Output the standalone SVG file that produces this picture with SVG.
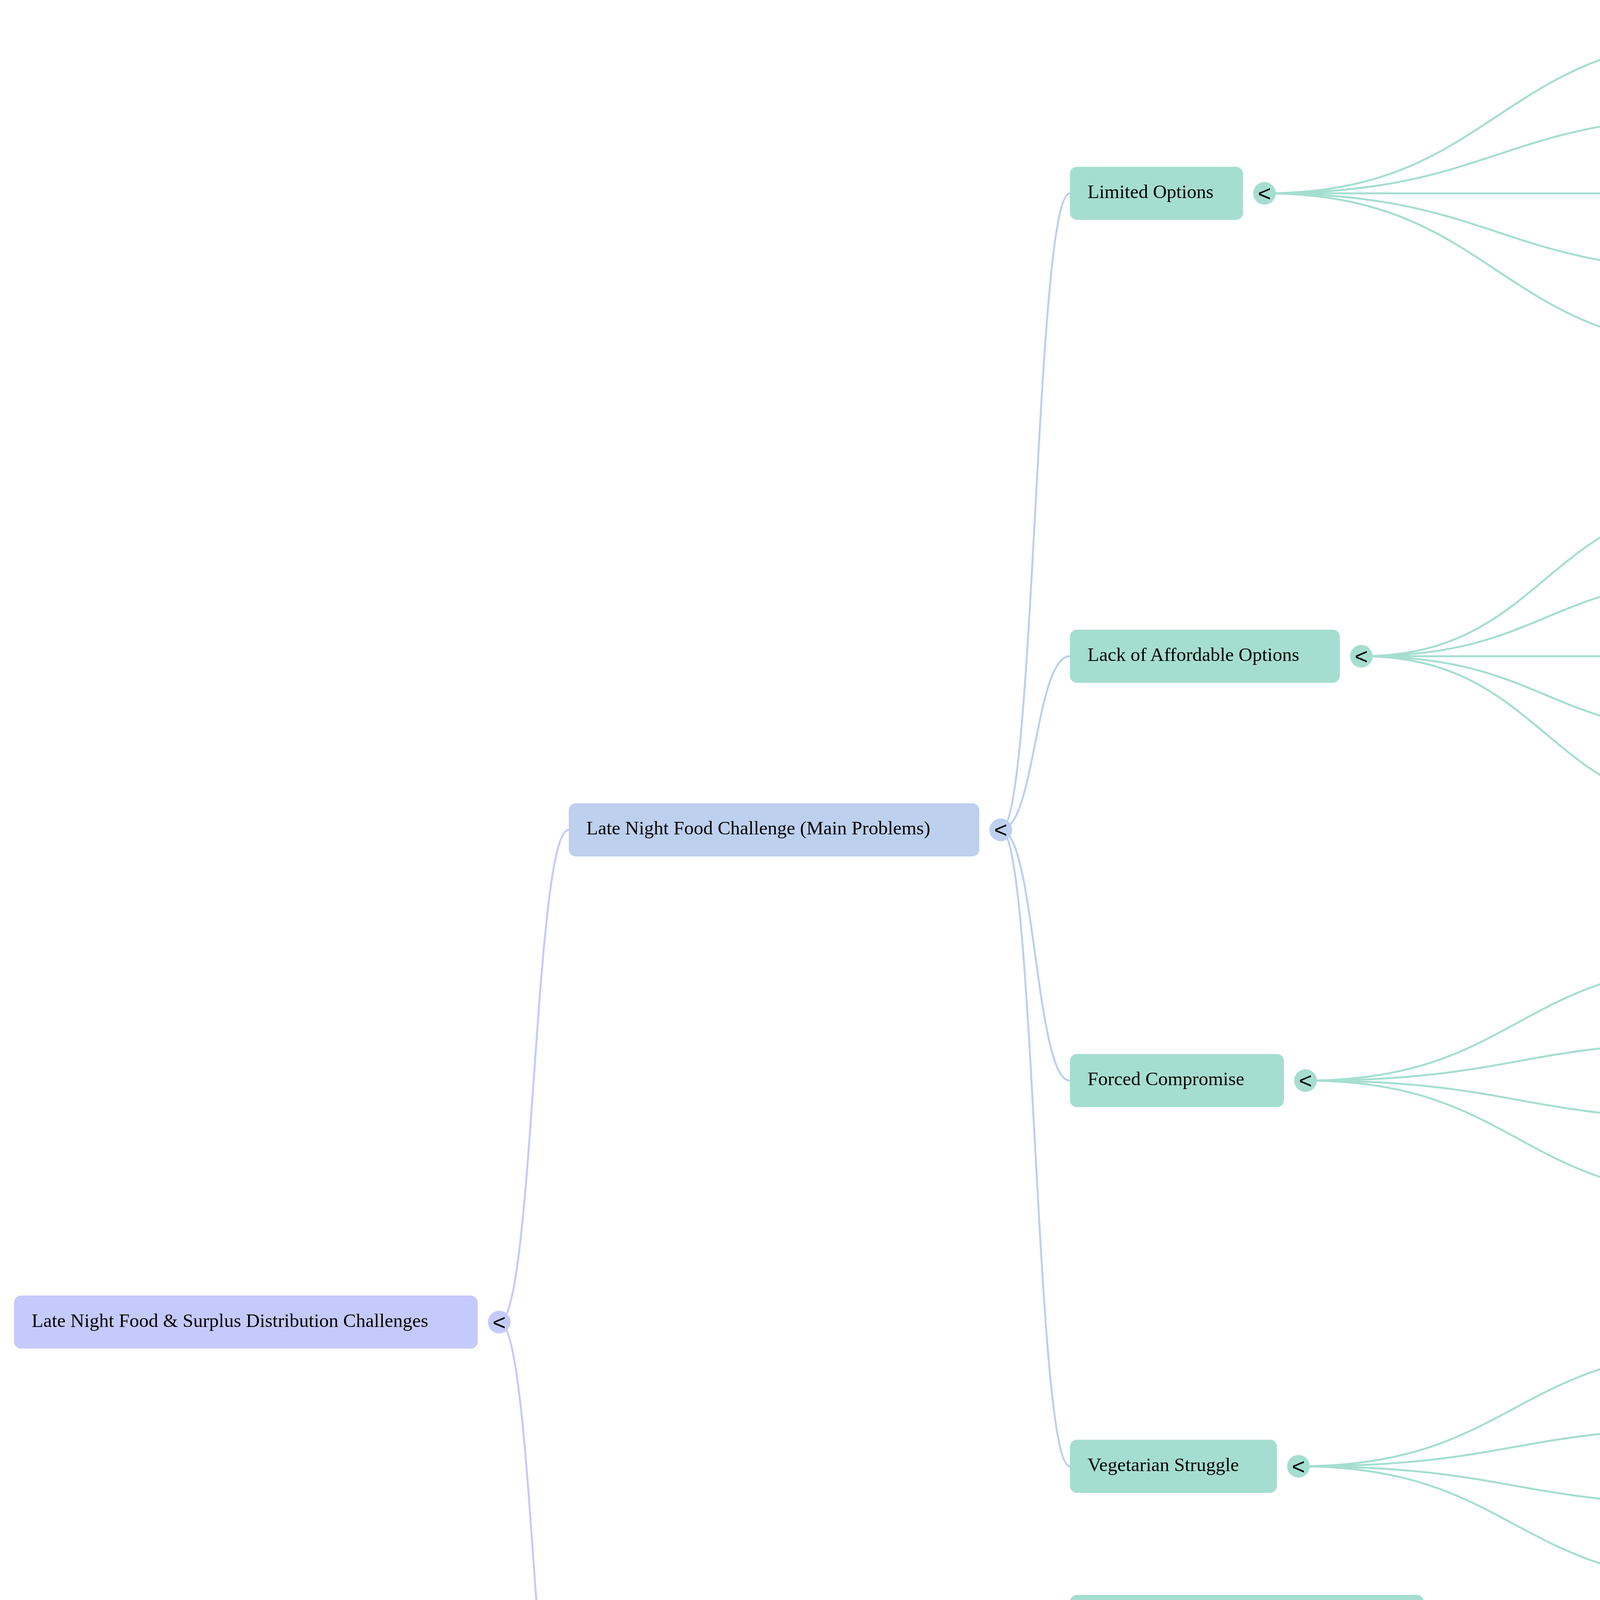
<svg xmlns="http://www.w3.org/2000/svg" width="5880" height="5214" viewBox="0 0 5880 5214">
<style>
.t{font-family:"Liberation Serif","Times New Roman",serif;font-size:49px;fill:#000}
.c{font-family:"Liberation Sans",Arial,sans-serif;font-size:58px;fill:#000;text-anchor:middle}
.n0{fill:#c5cafc}.n1{fill:#bdd0ee}.n2{fill:#a5ded0}.n3{fill:#9eebbe}
.l0,.l1,.l2{fill:none;stroke-width:5}
.l0{stroke:#c5cafc}.l1{stroke:#bdd0ee}.l2{stroke:#a5ded0}
</style>
<rect width="5880" height="5214" fill="#ffffff"/>
<g id="connectors">
<path class="l0" d="M1278,3384.6 C1367,3384.6 1367,2124.4 1456,2124.4"/>
<path class="l0" d="M1278,3384.6 C1367,3384.6 1367,4644.75 1456,4644.75"/>
<path class="l1" d="M2562,2124.4 C2650,2124.4 2650,495 2739,495"/>
<path class="l1" d="M2562,2124.4 C2650,2124.4 2650,1680 2739,1680"/>
<path class="l1" d="M2562,2124.4 C2650,2124.4 2650,2766.25 2739,2766.25"/>
<path class="l1" d="M2562,2124.4 C2650,2124.4 2650,3753.75 2739,3753.75"/>
<path class="l1" d="M2356,4644.75 C2547,4644.75 2547,4151 2739,4151"/>
<path class="l1" d="M2356,4644.75 C2547,4644.75 2547,4348.5 2739,4348.5"/>
<path class="l1" d="M2356,4644.75 C2547,4644.75 2547,4546 2739,4546"/>
<path class="l1" d="M2356,4644.75 C2547,4644.75 2547,4743.5 2739,4743.5"/>
<path class="l1" d="M2356,4644.75 C2547,4644.75 2547,4941 2739,4941"/>
<path class="l1" d="M2356,4644.75 C2547,4644.75 2547,5138.5 2739,5138.5"/>
<path class="l2" d="M3237,495 C3832,495 3832,100 4428,100"/>
<path class="l2" d="M3237,495 C3832,495 3832,297.5 4428,297.5"/>
<path class="l2" d="M3237,495 C3832,495 3832,495 4428,495"/>
<path class="l2" d="M3237,495 C3832,495 3832,692.5 4428,692.5"/>
<path class="l2" d="M3237,495 C3832,495 3832,890 4428,890"/>
<path class="l2" d="M3485,1680 C3956,1680 3956,1285 4428,1285"/>
<path class="l2" d="M3485,1680 C3956,1680 3956,1482.5 4428,1482.5"/>
<path class="l2" d="M3485,1680 C3956,1680 3956,1680 4428,1680"/>
<path class="l2" d="M3485,1680 C3956,1680 3956,1877.5 4428,1877.5"/>
<path class="l2" d="M3485,1680 C3956,1680 3956,2075 4428,2075"/>
<path class="l2" d="M3342,2766.25 C3885,2766.25 3885,2470 4428,2470"/>
<path class="l2" d="M3342,2766.25 C3885,2766.25 3885,2667.5 4428,2667.5"/>
<path class="l2" d="M3342,2766.25 C3885,2766.25 3885,2865 4428,2865"/>
<path class="l2" d="M3342,2766.25 C3885,2766.25 3885,3062.5 4428,3062.5"/>
<path class="l2" d="M3324,3753.75 C3876,3753.75 3876,3457.5 4428,3457.5"/>
<path class="l2" d="M3324,3753.75 C3876,3753.75 3876,3655 4428,3655"/>
<path class="l2" d="M3324,3753.75 C3876,3753.75 3876,3852.5 4428,3852.5"/>
<path class="l2" d="M3324,3753.75 C3876,3753.75 3876,4050 4428,4050"/>
</g>
<g id="root"><rect class="n0" x="36" y="3316.6" width="1187" height="136" rx="18"/><text class="t" x="81" y="3396.6">Late Night Food &amp; Surplus Distribution Challenges</text><circle class="n0" cx="1278" cy="3384.6" r="29"/><text class="c" x="1278" y="3404.6">&lt;</text></g>
<g id="late-night"><rect class="n1" x="1456" y="2056.4" width="1051" height="136" rx="18"/><text class="t" x="1501" y="2136.4">Late Night Food Challenge (Main Problems)</text><circle class="n1" cx="2562" cy="2124.4" r="29"/><text class="c" x="2562" y="2144.4">&lt;</text></g>
<g id="surplus"><rect class="n1" x="1456" y="4576.75" width="845" height="136" rx="18"/><text class="t" x="1501" y="4656.75">Surplus Food Distribution Problem</text><circle class="n1" cx="2356" cy="4644.75" r="29"/><text class="c" x="2356" y="4664.75">&lt;</text></g>
<g id="limited"><rect class="n2" x="2739" y="427" width="443" height="136" rx="18"/><text class="t" x="2784" y="507">Limited Options</text><circle class="n2" cx="3237" cy="495" r="29"/><text class="c" x="3237" y="515">&lt;</text></g>
<g id="affordable"><rect class="n2" x="2739" y="1612" width="691" height="136" rx="18"/><text class="t" x="2784" y="1692">Lack of Affordable Options</text><circle class="n2" cx="3485" cy="1680" r="29"/><text class="c" x="3485" y="1700">&lt;</text></g>
<g id="forced"><rect class="n2" x="2739" y="2698.25" width="548" height="136" rx="18"/><text class="t" x="2784" y="2778.25">Forced Compromise</text><circle class="n2" cx="3342" cy="2766.25" r="29"/><text class="c" x="3342" y="2786.25">&lt;</text></g>
<g id="vegetarian"><rect class="n2" x="2739" y="3685.75" width="530" height="136" rx="18"/><text class="t" x="2784" y="3765.75">Vegetarian Struggle</text><circle class="n2" cx="3324" cy="3753.75" r="29"/><text class="c" x="3324" y="3773.75">&lt;</text></g>
<g id="s1"><rect class="n2" x="2739" y="4083" width="906" height="136" rx="18"/><text class="t" x="2784" y="4163">Lack of Awareness and Coordination</text></g>
<g id="s2"><rect class="n2" x="2739" y="4280.5" width="1317" height="136" rx="18"/><text class="t" x="2784" y="4360.5">Stakeholders: Volunteers, event organizers, restaurants</text></g>
<g id="s3"><rect class="n2" x="2739" y="4478" width="1130" height="136" rx="18"/><text class="t" x="2784" y="4558">Issue: No clear coordinated distribution system</text></g>
<g id="s4"><rect class="n2" x="2739" y="4675.5" width="1540" height="136" rx="18"/><text class="t" x="2784" y="4755.5">When: After events, late at night, when restaurants have leftovers</text></g>
<g id="s5"><rect class="n2" x="2739" y="4873" width="932" height="136" rx="18"/><text class="t" x="2784" y="4953">Where: Events, restaurants, local hubs</text></g>
<g id="s6"><rect class="n2" x="2739" y="5070.5" width="1245" height="136" rx="18"/><text class="t" x="2784" y="5150.5">Root Cause: Disconnected communication channels</text></g>
<g id="l1a"><rect class="n3" x="4428" y="32" width="593" height="136" rx="18"/><text class="t" x="4473" y="112">Difficult to get delivery</text></g>
<g id="l1b"><rect class="n3" x="4428" y="229.5" width="931" height="136" rx="18"/><text class="t" x="4473" y="309.5">Lack of awareness about surplus food</text></g>
<g id="l1c"><rect class="n3" x="4428" y="427" width="602" height="136" rx="18"/><text class="t" x="4473" y="507">Restaurants close early</text></g>
<g id="l1d"><rect class="n3" x="4428" y="624.5" width="734" height="136" rx="18"/><text class="t" x="4473" y="704.5">No variety; repetitive choices</text></g>
<g id="l1e"><rect class="n3" x="4428" y="822" width="725" height="136" rx="18"/><text class="t" x="4473" y="902">Fast food dominates options</text></g>
<g id="l2a"><rect class="n3" x="4428" y="1217" width="1105" height="136" rx="18"/><text class="t" x="4473" y="1297">Dominated by fast food chains &amp; biryani spots</text></g>
<g id="l2b"><rect class="n3" x="4428" y="1414.5" width="1157" height="136" rx="18"/><text class="t" x="4473" y="1494.5">No regular home-cooked or local eatery options</text></g>
<g id="l2c"><rect class="n3" x="4428" y="1612" width="722" height="136" rx="18"/><text class="t" x="4473" y="1692">Delivery difficult late at night</text></g>
<g id="l2d"><rect class="n3" x="4428" y="1809.5" width="1054" height="136" rx="18"/><text class="t" x="4473" y="1889.5">No centralized platform for affordable food</text></g>
<g id="l2e"><rect class="n3" x="4428" y="2007" width="1116" height="136" rx="18"/><text class="t" x="4473" y="2087">Fewer shops stay open (limits budget choices)</text></g>
<g id="l3a"><rect class="n3" x="4428" y="2402" width="890" height="136" rx="18"/><text class="t" x="4473" y="2482">Affects health-conscious individuals</text></g>
<g id="l3b"><rect class="n3" x="4428" y="2599.5" width="994" height="136" rx="18"/><text class="t" x="4473" y="2679.5">Settling for unhealthy or overpriced food</text></g>
<g id="l3c"><rect class="n3" x="4428" y="2797" width="1032" height="136" rx="18"/><text class="t" x="4473" y="2877">Healthier options limited to fast food joints</text></g>
<g id="l3d"><rect class="n3" x="4428" y="2994.5" width="937" height="136" rx="18"/><text class="t" x="4473" y="3074.5">No focus on healthier or diverse meals</text></g>
<g id="l4a"><rect class="n3" x="4428" y="3389.5" width="996" height="136" rx="18"/><text class="t" x="4473" y="3469.5">Affects vegetarians &amp; dietary restrictions</text></g>
<g id="l4b"><rect class="n3" x="4428" y="3587" width="856" height="136" rx="18"/><text class="t" x="4473" y="3667">Limited or no veg options available</text></g>
<g id="l4c"><rect class="n3" x="4428" y="3784.5" width="961" height="136" rx="18"/><text class="t" x="4473" y="3864.5">Local eateries with veg food close early</text></g>
<g id="l4d"><rect class="n3" x="4428" y="3982" width="1364" height="136" rx="18"/><text class="t" x="4473" y="4062">Restaurants prioritize non-veg dishes (fewer veg choices)</text></g>
</svg>
